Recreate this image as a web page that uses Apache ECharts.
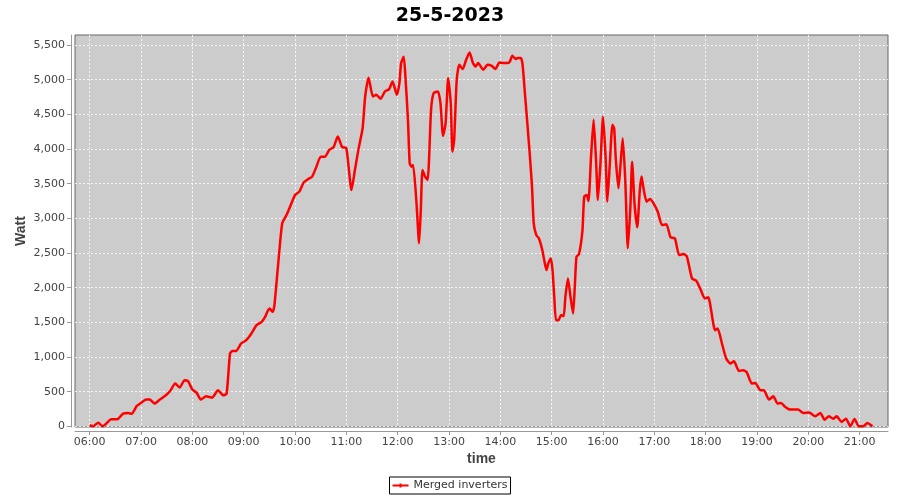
<!DOCTYPE html>
<html>
<head>
<meta charset="utf-8">
<script src="https://cdn.jsdelivr.net/npm/echarts@6/dist/echarts.min.js"></script>
<style>html,body{margin:0;padding:0;background:#fff}#c{width:900px;height:500px}</style>
</head>
<body>
<div id="c"></div>
<script>
const chartTitle = '25-5-2023';
const seriesName = 'Merged inverters';
const xTickHours = [6,7,8,9,10,11,12,13,14,15,16,17,18,19,20,21];
const yTickValues = [0,500,1000,1500,2000,2500,3000,3500,4000,4500,5000,5500];
const times = ['06:00','06:04','06:10','06:15','06:20','06:25','06:32','06:39','06:45','06:49','06:55','07:00','07:06','07:10','07:16','07:22','07:29','07:34','07:40','07:45','07:51','07:55','08:00','08:05','08:10','08:16','08:23','08:30','08:36','08:40','08:44','08:47','08:51','08:57','09:03','09:09','09:15','09:21','09:25','09:30','09:34','09:36','09:40','09:45','09:50','09:55','10:00','10:05','10:10','10:15','10:20','10:25','10:30','10:35','10:40','10:45','10:50','10:55','11:00','11:06','11:10','11:14','11:19','11:22','11:26','11:31','11:35','11:40','11:45','11:50','11:54','11:59','12:02','12:04','12:07','12:09','12:12','12:14','12:16','12:18','12:22','12:25','12:27','12:29','12:32','12:35','12:39','12:42','12:47','12:50','12:53','12:56','12:59','13:02','13:04','13:06','13:09','13:12','13:16','13:20','13:24','13:28','13:31','13:34','13:40','13:45','13:50','13:54','13:59','14:04','14:08','14:11','14:14','14:18','14:20','14:24','14:26','14:29','14:34','14:37','14:39','14:42','14:45','14:49','14:52','14:54','14:56','14:59','15:01','15:03','15:05','15:08','15:11','15:14','15:16','15:19','15:22','15:25','15:27','15:29','15:32','15:36','15:38','15:41','15:43','15:46','15:49','15:52','15:54','15:57','16:00','16:03','16:05','16:08','16:11','16:13','16:15','16:18','16:20','16:23','16:26','16:29','16:32','16:34','16:37','16:40','16:43','16:45','16:46','16:51','16:55','16:59','17:04','17:09','17:14','17:19','17:24','17:29','17:34','17:38','17:44','17:49','17:54','17:59','18:03','18:11','18:14','18:19','18:24','18:29','18:33','18:39','18:44','18:48','18:54','18:58','19:04','19:08','19:14','19:19','19:24','19:28','19:33','19:39','19:48','19:54','20:01','20:08','20:14','20:19','20:24','20:29','20:33','20:39','20:44','20:49','20:54','20:59','21:04','21:09','21:15'];
const watts = [15,0,53,0,48,100,100,183,193,180,294,337,385,385,328,385,448,510,617,559,665,650,530,482,385,433,414,520,448,470,1050,1088,1088,1195,1242,1339,1459,1507,1579,1700,1651,1760,2301,2928,3048,3193,3337,3385,3515,3564,3602,3746,3890,3890,3987,4026,4180,4030,4012,3409,3698,3987,4300,4758,5030,4758,4782,4724,4830,4864,4974,4782,4950,5240,5330,5046,4421,3795,3746,3770,3217,2639,3120,3698,3602,3554,4565,4806,4830,4662,4190,4373,5023,4662,3963,4132,4999,5215,5153,5288,5393,5240,5191,5240,5143,5215,5200,5153,5249,5240,5240,5260,5345,5298,5312,5312,5215,4758,3987,3457,2928,2759,2712,2543,2350,2254,2350,2422,2254,1868,1531,1531,1604,1590,1868,2133,1868,1628,2013,2446,2485,2831,3313,3337,3250,3890,4421,3795,3265,3795,4469,3890,3241,3795,4349,4300,3843,3434,3698,4156,3554,2567,3168,3818,3183,2870,3409,3602,3530,3241,3280,3217,3096,2904,2914,2726,2712,2470,2485,2450,2133,2100,1975,1845,1860,1387,1411,1195,978,906,939,799,809,780,617,626,520,520,385,433,328,337,279,241,241,193,200,144,193,96,144,110,144,63,110,0,105,0,0,48,0];

function toHours(s){const p=s.split(':');return Number(p[0])+Number(p[1])/60;}
function pad(n){return (n<10?'0':'')+n;}

const chart = echarts.init(document.getElementById('c'), null, {renderer:'canvas'});
const labelColor = '#444444';
const axisColor = '#999999';
chart.setOption({
  animation:false,
  backgroundColor:'#ffffff',
  title:{
    text:chartTitle, left:'center', top:2,
    textStyle:{fontFamily:'DejaVu Sans', fontWeight:'bold', fontSize:19, color:'#000'}
  },
  legend:{
    data:[{name:seriesName, icon:'path://M0,2 L16,2 L16,4 L0,4 Z M7,1 L9,1 L9,5 L7,5 Z'}],
    left:'center', top:477,
    borderColor:'#000', borderWidth:1, padding:[3,3,3,3],
    itemWidth:16, itemHeight:6, itemGap:5,
    textStyle:{fontFamily:'DejaVu Sans', fontSize:11, color:'#333'}
  },
  grid:{left:75, right:12, top:35, bottom:73, show:true, backgroundColor:'#cccccc', borderColor:'#666666', borderWidth:1, outerBoundsMode:'none', containLabel:false},
  xAxis:{
    type:'value', min:5.7133, max:21.552, offset:4,
    name:'time', nameLocation:'middle', nameGap:21, nameMoveOverlap:false,
    nameTextStyle:{fontFamily:'Liberation Sans', fontWeight:'bold', fontSize:14, color:labelColor},
    axisLine:{show:true, onZero:false, lineStyle:{color:axisColor, width:1}},
    axisTick:{show:true, length:4, customValues:xTickHours, lineStyle:{color:axisColor}},
    axisLabel:{customValues:xTickHours, margin:6, fontFamily:'DejaVu Sans', fontSize:11, color:labelColor,
      formatter:function(v){return pad(Math.round(v))+':00';}},
    splitLine:{show:true, lineStyle:{color:'rgba(255,255,255,0.8)', width:1, type:[2,2]}}
  },
  yAxis:{
    type:'value', min:-10, max:5645, offset:4,
    name:'Watt', nameLocation:'middle', nameGap:43, nameRotate:90, nameMoveOverlap:false,
    nameTextStyle:{fontFamily:'Liberation Sans', fontWeight:'bold', fontSize:14, color:labelColor},
    axisLine:{show:true, onZero:false, lineStyle:{color:axisColor, width:1}},
    axisTick:{show:true, length:4, customValues:yTickValues, lineStyle:{color:axisColor}},
    axisLabel:{customValues:yTickValues, margin:6, fontFamily:'DejaVu Sans', fontSize:11, color:labelColor,
      formatter:function(v){return Math.round(v).toLocaleString('en-US');}},
    splitLine:{show:true, lineStyle:{color:'rgba(255,255,255,0.8)', width:1, type:[2,2]}}
  },
  series:[{
    name:seriesName, type:'line',
    data:times.map(function(t,i){return [toHours(t), watts[i]];}),
    showSymbol:false, smooth:0.2,
    lineStyle:{color:'#ff0000', width:2.5},
    itemStyle:{color:'#ff0000'}
  }]
});
</script>
</body>
</html>
